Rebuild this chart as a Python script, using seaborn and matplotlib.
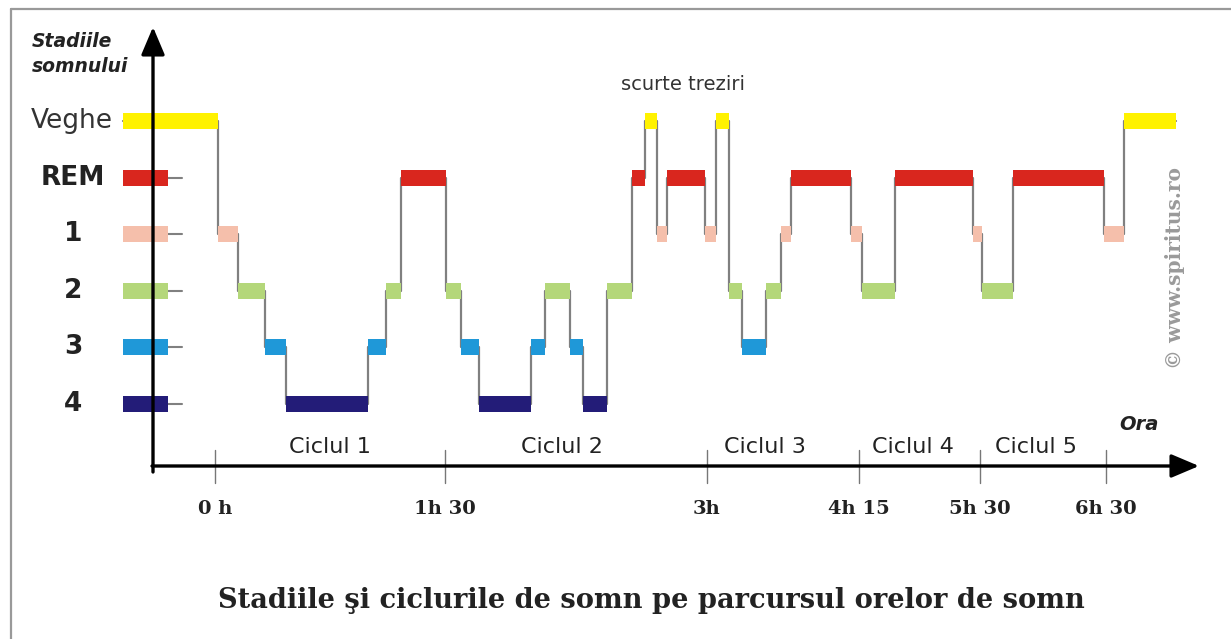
import matplotlib
matplotlib.use("Agg")
import matplotlib.pyplot as plt
import numpy as np
import pandas as pd
import seaborn as sns

# sleep stages, bottom to top
stages = ["4", "3", "2", "1", "REM", "Veghe"]
stage_colors = ["#231c78", "#1f98d8", "#b4d77a", "#f5bfab", "#d9261e", "#fff200"]

# hypnogram: edges of each segment (chart units) and the stage of each segment
seg_edges = [123, 218, 238, 265, 286, 368, 386, 401, 446, 461, 479, 531, 545,
             570, 583, 607, 632, 645, 657, 667, 705, 716, 729, 742, 766, 781,
             791, 851, 862, 895, 973, 982, 1013, 1104, 1124, 1176]
seg_stage = ["Veghe", "1", "2", "3", "4", "3", "2", "REM", "2", "3", "4", "3",
             "2", "3", "4", "2", "REM", "Veghe", "1", "REM", "1", "Veghe", "2",
             "3", "2", "1", "REM", "1", "2", "REM", "1", "2", "REM", "1", "Veghe"]

tick_pos = [215, 445, 707, 859, 980, 1106]
tick_labels = ["0 h", "1h 30", "3h", "4h 15", "5h 30", "6h 30"]
cycle_pos = [330, 562, 765, 913, 1036]
cycle_labels = ["Ciclul 1", "Ciclul 2", "Ciclul 3", "Ciclul 4", "Ciclul 5"]

W, H = 1231, 639
STEP = 56.6      # pixels between two stage levels
BASE = 404       # pixel row of stage 4
SERIF = ["DejaVu Serif", "Liberation Serif"]


def ry(p):
    # pixel row -> stage-rank units
    return (BASE - p) / STEP


sns.set_theme(style="white")
plt.rcParams['font.family'] = ['DejaVu Sans', 'Liberation Sans']

fig = plt.figure(figsize=(W / 100, H / 100), dpi=100)
ax = fig.add_axes([0, 0, 1, 1])
ax.set_xlim(0, W)
ax.set_ylim(ry(H), ry(0))
ax.axis("off")

rank = {s: i for i, s in enumerate(stages)}
color = dict(zip(stages, stage_colors))

df = pd.DataFrame({
    "start": seg_edges[:-1],
    "end": seg_edges[1:],
    "stage": seg_stage,
})
df["level"] = df["stage"].map(rank)

# gray connectors (step line)
step_x = list(df["start"]) + [df["end"].iloc[-1]]
step_y = list(df["level"]) + [df["level"].iloc[-1]]
sns.lineplot(x=step_x, y=step_y, drawstyle="steps-post", estimator=None,
             sort=False, color="#808080", lw=1.6, ax=ax, zorder=2)

bar_h = 16 / STEP
ax.barh(df["level"], df["end"] - df["start"], left=df["start"], height=bar_h,
        color=[color[s] for s in df["stage"]], zorder=3, linewidth=0)

# key bars on the y axis
key = stages[:5]
ax.barh([rank[s] for s in key], 45, left=123, height=bar_h,
        color=[color[s] for s in key], zorder=3, linewidth=0)
for s in key:
    ax.plot([168, 182], [rank[s], rank[s]], color="#808080", lw=1.5, zorder=2)

# axes with arrows
arrow = dict(arrowstyle="-|>,head_length=0.85,head_width=0.36", lw=2.4,
             color="black", mutation_scale=20, shrinkA=0, shrinkB=0)
y_axis = ry(466)
ax.annotate("", xy=(1199, y_axis), xytext=(152, y_axis), arrowprops=arrow, zorder=5)
ax.annotate("", xy=(153, ry(27)), xytext=(153, ry(472)), arrowprops=arrow, zorder=5)

for x, lab in zip(tick_pos, tick_labels):
    ax.plot([x, x], [ry(450), ry(483)], color="#777777", lw=1.0, zorder=2)
    ax.text(x, ry(509), lab, ha="center", va="center", fontsize=14,
            fontweight="bold", family=SERIF, color="#222222")

for x, lab in zip(cycle_pos, cycle_labels):
    ax.text(x, ry(447), lab, ha="center", va="center", fontsize=16,
            color="#222222")

# stage names
for s in stages:
    if s == "Veghe":
        ax.text(72, rank[s], s, ha="center", va="center", fontsize=19,
                color="#333333")
    else:
        ax.text(73, rank[s], s, ha="center", va="center", fontsize=19,
                fontweight="bold", color="#222222")

ax.text(32, ry(54), "Stadiile\nsomnului", ha="left", va="center", fontsize=13.5,
        fontweight="bold", fontstyle="italic", color="#222222", linespacing=1.35)
ax.text(1139, ry(424), "Ora", ha="center", va="center", fontsize=14,
        fontweight="bold", fontstyle="italic", color="#222222")
ax.text(683, ry(85), "scurte treziri", ha="center", va="center", fontsize=14,
        color="#333333")
ax.text(1175, ry(268), "\u00a9 www.spiritus.ro", ha="center", va="center",
        rotation=90, fontsize=14.5, fontweight="bold", color="#9a9a9a",
        family=SERIF)

ax.text(651, ry(600), "Stadiile \u015fi ciclurile de somn pe parcursul orelor de somn",
        ha="center", va="center", fontsize=19.6, fontweight="bold",
        family=SERIF, color="#222222")

# picture frame
fig.add_artist(plt.Line2D([11 / W, 11 / W], [0, 1 - 9 / H], transform=fig.transFigure,
                          color="#999999", lw=1.6))
fig.add_artist(plt.Line2D([11 / W, 1], [1 - 9 / H, 1 - 9 / H], transform=fig.transFigure,
                          color="#999999", lw=1.6))

fig.savefig("out.png", dpi=100)
